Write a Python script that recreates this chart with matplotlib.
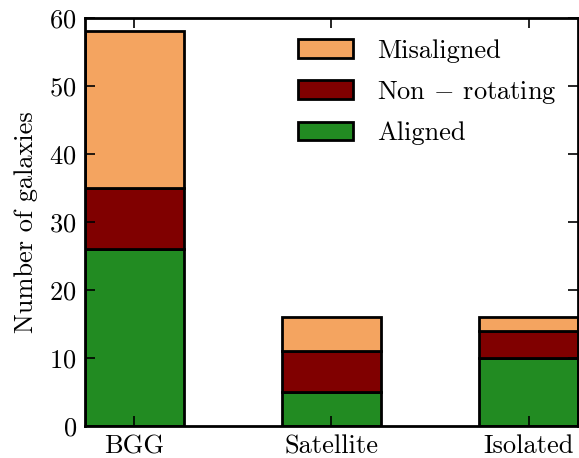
import numpy as np
import matplotlib
matplotlib.use('Agg')
import matplotlib.pyplot as plt

plt.rcParams['font.family'] = 'cmr10'
plt.rcParams['mathtext.fontset'] = 'cm'
plt.rcParams['axes.formatter.use_mathtext'] = True

categories = ['BGG', 'Satellite', 'Isolated']
aligned = [26, 5, 10]
non_rotating = [9, 6, 4]
misaligned = [23, 5, 2]

x = np.arange(len(categories))
width = 0.5
fs = 19

fig = plt.figure(figsize=(5.79, 4.58), dpi=100)
ax = fig.add_axes([0.147, 0.070, 0.851, 0.891])

bottom2 = np.array(aligned) + np.array(non_rotating)
ax.bar(x, aligned, width, color='#228B22', edgecolor='black', linewidth=2, label='Aligned')
ax.bar(x, non_rotating, width, bottom=aligned, color='#800000', edgecolor='black', linewidth=2,
       label=r'Non $-$ rotating')
ax.bar(x, misaligned, width, bottom=bottom2, color='#F4A460', edgecolor='black', linewidth=2,
       label='Misaligned')

ax.set_xlim(-0.25, 2.25)
ax.set_ylim(0, 60)
ax.set_xticks(x)
ax.set_xticklabels(categories, fontsize=fs)
ax.set_yticks(range(0, 61, 10))
ax.tick_params(axis='y', labelsize=fs)
ax.tick_params(direction='in', top=True, right=True, length=7, width=1.2, pad=6)
for s in ax.spines.values():
    s.set_linewidth(2)
ax.set_ylabel('Number of galaxies', fontsize=fs, labelpad=8)

handles, labels = ax.get_legend_handles_labels()
ax.legend(handles[::-1], labels[::-1], loc='upper right', frameon=False, fontsize=fs,
          handlelength=2.1, handleheight=0.7, labelspacing=0.6, handletextpad=0.9,
          borderaxespad=0.4)

fig.savefig('out.png', dpi=100)
